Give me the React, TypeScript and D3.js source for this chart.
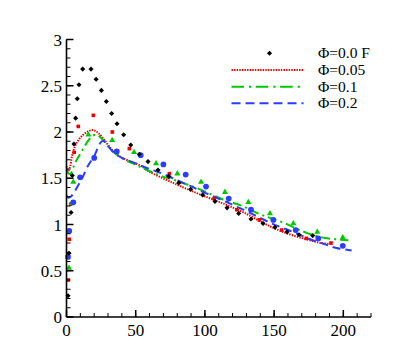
import React from 'react';
import * as d3 from 'd3';

const W = 407;
const H = 362;

// Tick values
const xMajorTicks = [0, 50, 100, 150, 200];
const yMajorTicks = [0, 0.5, 1, 1.5, 2, 2.5, 3];
const yTickLabels = ['0', '0.5', '1', '1.5', '2', '2.5', '3'];

// Legend labels
const legendLabels = ['Φ=0.0 F', 'Φ=0.05', 'Φ=0.1', 'Φ=0.2'];

// Scatter: Φ=0.0 F (black diamonds)
const blackX = [1.1, 1.8, 3.3, 4.2, 5.4, 6.6, 7.8, 9.0, 11.7, 17.7, 21.4, 25.2, 28.8, 32.6, 36.5, 41.3, 46.4, 52.6, 58.9, 66.1, 73.8, 81.1, 89.7, 98.4, 107.3, 116, 124.4, 133.3, 142, 150.6, 159.3, 168, 177.9];
const blackY = [0.23, 0.69, 1.13, 1.53, 1.87, 2.15, 2.36, 2.51, 2.68, 2.68, 2.57, 2.45, 2.33, 2.2, 2.09, 1.97, 1.86, 1.76, 1.68, 1.59, 1.52, 1.45, 1.38, 1.32, 1.25, 1.18, 1.12, 1.06, 1.01, 0.97, 0.92, 0.89, 0.88];

// Scatter: red squares
const redX = [1.3, 2.0, 3.0, 5.6, 8.5, 19.4, 33.1, 45.4, 74.3, 106.6, 123, 139.3, 155.5, 173.3, 191.1];
const redY = [0.4, 0.84, 1.22, 1.78, 2.06, 2.18, 2.0, 1.82, 1.55, 1.28, 1.16, 1.05, 0.94, 0.85, 0.8];

// Scatter: green triangles
const greenX = [1.8, 3.8, 4.9, 15.8, 33, 48.8, 64.7, 80.1, 97.2, 114.5, 131.4, 147, 163.9, 181.2, 199.6];
const greenY = [0.53, 1.23, 1.46, 1.97, 1.91, 1.78, 1.66, 1.55, 1.46, 1.35, 1.24, 1.12, 1.01, 0.92, 0.86];

// Scatter: blue circles
const blueX = [1.1, 2.0, 4.9, 9.8, 20, 36.3, 53.6, 70, 86.1, 100.8, 117.2, 133.3, 149.4, 165.6, 181.9, 199.6];
const blueY = [0.65, 0.93, 1.24, 1.51, 1.72, 1.79, 1.75, 1.65, 1.54, 1.41, 1.28, 1.16, 1.05, 0.94, 0.85, 0.77];

// Line: Φ=0.05 (red dotted)
const line05X = [0, 1.2, 2.5, 4, 6, 8.5, 12, 16, 19.5, 23, 26.5, 30, 34, 39, 45, 53, 60, 77, 94, 111, 128, 147, 160, 173.5, 184, 192];
const line05Y = [1.63, 1.58, 1.62, 1.74, 1.84, 1.91, 1.97, 2.01, 2.02, 1.99, 1.93, 1.86, 1.79, 1.73, 1.69, 1.64, 1.57, 1.45, 1.34, 1.24, 1.13, 0.98, 0.9, 0.84, 0.8, 0.79];

// Line: Φ=0.1 (green dash-dot)
const line10X = [0, 1.5, 3, 6, 11, 15.8, 19, 21.8, 24, 26.6, 31.4, 38.7, 48, 55, 67.5, 82, 96.5, 113, 125.4, 140, 156.6, 173.5, 186.8, 203.6];
const line10Y = [1.59, 1.55, 1.55, 1.66, 1.79, 1.91, 1.96, 1.97, 1.95, 1.91, 1.82, 1.73, 1.66, 1.61, 1.53, 1.46, 1.38, 1.27, 1.21, 1.11, 1.02, 0.91, 0.855, 0.83];

// Line: Φ=0.2 (blue dashed)
const line20X = [0, 1.5, 3, 6, 9.8, 12, 14.6, 17, 20, 23, 25.5, 27.5, 30, 34, 40, 50, 60, 71, 81, 89, 99, 113, 127.7, 137.4, 147, 156.6, 166, 176, 187, 195, 206];
const line20Y = [1.31, 1.29, 1.3, 1.36, 1.46, 1.52, 1.61, 1.67, 1.74, 1.84, 1.9, 1.9, 1.85, 1.78, 1.72, 1.66, 1.6, 1.54, 1.47, 1.42, 1.35, 1.26, 1.16, 1.09, 1.02, 0.96, 0.905, 0.84, 0.785, 0.745, 0.72];

const RED = '#ee0000';
const GREEN = '#00c800';
const BLUE = '#2b3dff';
const FONT = 'Liberation Serif, DejaVu Serif, Times New Roman, serif';

export default function App() {
  const x = d3.scaleLinear().domain([0, 220]).range([66.5, 371]);
  const y = d3.scaleLinear().domain([0, 3]).range([317, 39.5]);

  const xMinor = d3.range(0, 221, 10);
  const yMinor = d3.range(0, 30.01, 1).map((v) => v / 10);

  const mkLine = (xs: number[], ys: number[]) =>
    d3
      .line<number>()
      .x((_, i) => x(xs[i]))
      .y((_, i) => y(ys[i]))
      .curve(d3.curveCatmullRom.alpha(0.5))(xs) || '';

  const diamond = d3.symbol().type(d3.symbolSquare).size(13)() || '';
  const square = d3.symbol().type(d3.symbolSquare).size(13)() || '';
  const tri = d3.symbol().type(d3.symbolTriangle).size(16)() || '';
  const circ = d3.symbol().type(d3.symbolCircle).size(26)() || '';

  const lx0 = 231.5;
  const lx1 = 303.5;
  const textX = 318;
  const rowY = [53.3, 70, 86.7, 103.3];
  const txt = { fontFamily: FONT };

  return (
    <svg width={W} height={H} style={{ position: 'absolute', left: 0, top: 0, background: '#fff' }}>
      <rect width={W} height={H} fill="#fff" />

      {/* Lines */}
      <path d={mkLine(line05X, line05Y)} fill="none" stroke={RED} strokeWidth={2} strokeDasharray="1.4,1.2" />
      <path d={mkLine(line10X, line10Y)} fill="none" stroke={GREEN} strokeWidth={2} strokeDasharray="9,4,2,4" />
      <path d={mkLine(line20X, line20Y)} fill="none" stroke={BLUE} strokeWidth={2} strokeDasharray="8,5" />

      {/* Scatter */}
      {redX.map((v, i) => (
        <path key={'r' + i} d={square} transform={`translate(${x(v)},${y(redY[i])})`} fill={RED} />
      ))}
      {greenX.map((v, i) => (
        <path key={'g' + i} d={tri} transform={`translate(${x(v)},${y(greenY[i])})`} fill={GREEN} />
      ))}
      {blueX.map((v, i) => (
        <path key={'b' + i} d={circ} transform={`translate(${x(v)},${y(blueY[i])})`} fill={BLUE} />
      ))}
      {blackX.map((v, i) => (
        <path key={'k' + i} d={diamond} transform={`translate(${x(v)},${y(blackY[i])}) rotate(45)`} fill="#000" />
      ))}

      {/* Axes */}
      <line x1={x(0)} x2={x(220)} y1={y(0)} y2={y(0)} stroke="#000" strokeWidth={1.6} />
      <line x1={x(0)} x2={x(0)} y1={y(0)} y2={y(3)} stroke="#000" strokeWidth={1.6} />
      {xMinor.map((v) => (
        <line key={'xm' + v} x1={x(v)} x2={x(v)} y1={y(0)} y2={y(0) - 4} stroke="#000" strokeWidth={1} />
      ))}
      {xMajorTicks.map((v) => (
        <line key={'xM' + v} x1={x(v)} x2={x(v)} y1={y(0)} y2={y(0) - 7} stroke="#000" strokeWidth={1.5} />
      ))}
      {yMinor.map((v) => (
        <line key={'ym' + v} x1={x(0)} x2={x(0) + 4} y1={y(v)} y2={y(v)} stroke="#000" strokeWidth={1} />
      ))}
      {yMajorTicks.map((v) => (
        <line key={'yM' + v} x1={x(0)} x2={x(0) + 7} y1={y(v)} y2={y(v)} stroke="#000" strokeWidth={1.5} />
      ))}
      {xMajorTicks.map((v) => (
        <text key={'xl' + v} x={x(v)} y={y(0) + 19} fontSize={17} textAnchor="middle" fill="#000" style={txt}>
          {String(v)}
        </text>
      ))}
      {yMajorTicks.map((v, i) => (
        <text key={'yl' + v} x={x(0) - 4.5} y={y(v) + 6} fontSize={17} textAnchor="end" fill="#000" style={txt}>
          {yTickLabels[i]}
        </text>
      ))}

      {/* Legend */}
      <path d={diamond} transform={`translate(${(lx0 + lx1) / 2 + 2},${rowY[0]}) rotate(45)`} fill="#000" />
      <line x1={lx0} x2={lx1} y1={rowY[1]} y2={rowY[1]} stroke={RED} strokeWidth={2} strokeDasharray="1.4,1.2" />
      <line x1={lx0} x2={lx1} y1={rowY[2]} y2={rowY[2]} stroke={GREEN} strokeWidth={2} strokeDasharray="12.5,5,2.3,4.5" />
      <line x1={lx0} x2={lx1} y1={rowY[3]} y2={rowY[3]} stroke={BLUE} strokeWidth={2} strokeDasharray="9,5" />
      {legendLabels.map((t, i) => (
        <text key={'lg' + i} x={textX} y={rowY[i] + 5} fontSize={15.5} fill="#000" style={txt}>
          {t}
        </text>
      ))}
    </svg>
  );
}
